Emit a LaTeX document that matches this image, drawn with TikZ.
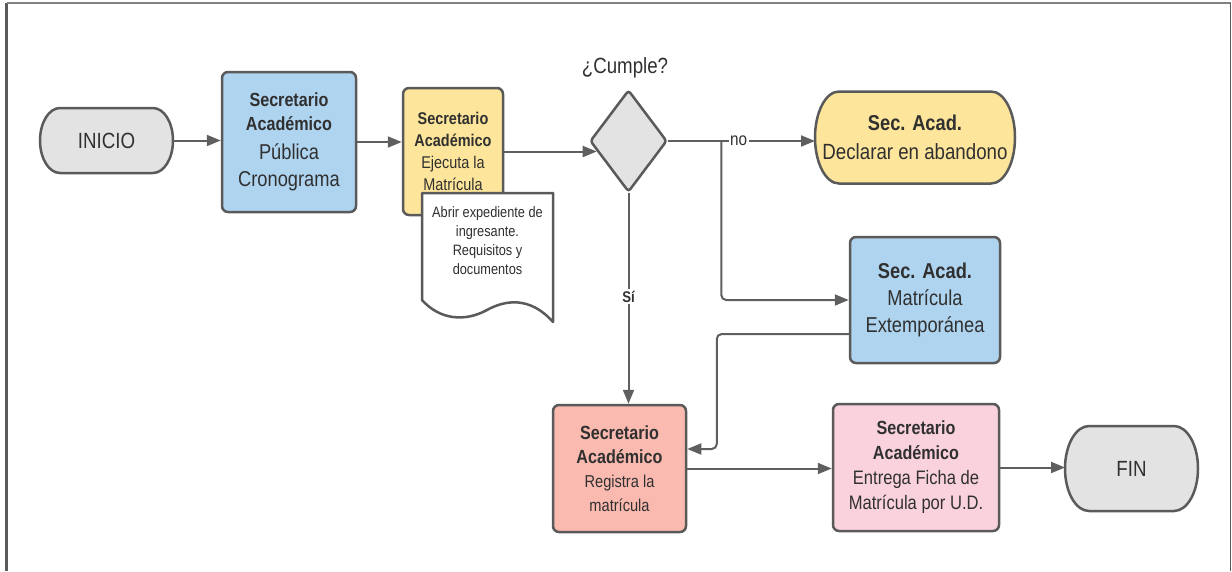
\documentclass[tikz,border=0pt]{standalone}
\usepackage{fontspec}
\setmainfont{Liberation Sans}[FakeStretch=0.85]
\usetikzlibrary{shapes.geometric,arrows.meta,calc,backgrounds}

\definecolor{edge}{RGB}{90,90,90}
\definecolor{wire}{RGB}{95,95,95}
\definecolor{ink}{RGB}{48,48,48}
\definecolor{greyF}{RGB}{227,227,227}
\definecolor{blueF}{RGB}{175,212,240}
\definecolor{yellowF}{RGB}{253,229,155}
\definecolor{salmonF}{RGB}{250,186,176}
\definecolor{pinkF}{RGB}{250,210,221}

% font size and baseline skip in one go
\newcommand\fsz[2]{\fontsize{#1}{#2}\selectfont}
% one bold heading line at a given size, keeping the node's line pitch
\newcommand\hdl[2]{{\fontsize{#1}{\baselineskip}\selectfont\bfseries #2}}
% terminator outline: straight top and bottom, half-ellipse ends
\newcommand\pillshape[3]{%
  \draw[draw=edge, line width=2.5pt, fill=#2]
    let \p1=($(#1.north)-(#1.south)$) in
    ([xshift=#3]#1.north west) -- ([xshift=-#3]#1.north east)
    arc[start angle=90, end angle=-90, x radius=#3, y radius=0.5*\y1]
    -- ([xshift=#3]#1.south west)
    arc[start angle=270, end angle=90, x radius=#3, y radius=0.5*\y1]
    -- cycle;}

\begin{document}
\begin{tikzpicture}[x=1pt, y=-1pt,
  procbox/.style={rectangle, draw=edge, line width=2.5pt, rounded corners=6pt,
    text=ink, align=center, inner sep=0pt},
  termnode/.style={rectangle, inner sep=0pt, outer sep=0pt, text=ink, align=center},
  flow/.style={draw=wire, line width=2pt, -{Triangle[length=14pt, width=11pt]}},
  lbl/.style={fill=white, inner sep=1.5pt, text=ink}]
\useasboundingbox (0,0) rectangle (1232,571);

% page frame
\draw[line width=2.5pt, edge] (6.5,571) -- (6.5,3);
\draw[line width=1.5pt, black!50] (6.5,3) -- (1230.5,3);
\draw[line width=1.5pt, edge] (1230.5,3) -- (1230.5,571);

% start and end terminators
\node[termnode, minimum width=133pt, minimum height=65pt, font=\fsz{22}{26}]
  (inicio) at (106.5,140.5) {INICIO};
\node[termnode, minimum width=133pt, minimum height=85pt, font=\fsz{22}{26}]
  (fin) at (1131.5,468.5) {FIN};
\node[termnode, minimum width=200pt, minimum height=92pt, font=\fsz{22}{29}]
  (aband) at (915,137.5)
  {\hdl{21.5}{Sec. Acad.}\\ Declarar en abandono};

\begin{scope}[on background layer]
  \pillshape{inicio}{greyF}{20pt}
  \pillshape{fin}{greyF}{24pt}
  \pillshape{aband}{yellowF}{24pt}
\end{scope}

% process boxes
\node[procbox, fill=blueF, minimum width=134pt, minimum height=140pt,
  font=\fsz{21.5}{26.7}] (pub) at (289,142)
  {\hdl{19}{Secretario}\\[-2.4pt] \hdl{19}{Académico}\\[2.3pt]
   Pública\\ Cronograma};

\node[procbox, fill=yellowF, minimum width=100pt, minimum height=127pt,
  font=\fsz{17}{22}] (eje) at (453,151.5)
  {\hdl{17}{Secretario}\\ \hdl{17}{Académico}\\ Ejecuta la\\ Matrícula};

\node[procbox, fill=blueF, minimum width=150pt, minimum height=126pt,
  font=\fsz{21.5}{27}] (ext) at (925,300)
  {\hdl{21.5}{Sec. Acad.}\\ Matrícula\\ Extemporánea};

\node[procbox, fill=salmonF, minimum width=133pt, minimum height=127pt,
  font=\fsz{17.2}{24}] (reg) at (619.5,468.5)
  {\hdl{19}{Secretario}\\ \hdl{19}{Académico}\\ Registra la\\ matrícula};

\node[procbox, fill=pinkF, minimum width=166pt, minimum height=127pt,
  font=\fsz{19.5}{25}] (ent) at (916,467.5)
  {\hdl{19}{Secretario}\\ \hdl{19}{Académico}\\ Entrega Ficha de\\ Matrícula por U.D.};

% document note with a wavy lower edge
\draw[draw=edge, line width=2.5pt, fill=white, line join=round]
  (422,300) -- (422,193) -- (553,193) -- (553,322)
  .. controls (530,296) and (505,300) .. (487,310)
  .. controls (465,322) and (440,320) .. (422,300) -- cycle;
\node[font=\fsz{15}{19}, text=ink, align=center, inner sep=0pt]
  (doc) at (487.5,241)
  {Abrir expediente de\\ ingresante.\\ Requisitos y\\ documentos};

% decision
\node[diamond, draw=edge, line width=2.5pt, fill=greyF, minimum width=77pt,
  minimum height=102pt, inner sep=0pt, rounded corners=3pt] (dia) at (628.5,141) {};
\node[font=\fsz{22}{26}, text=ink] (q) at (625,68) {¿Cumple?};

% connectors
\draw[flow] (inicio.east) -- (inicio.east -| pub.west);
\draw[flow] (pub.east) -- (pub.east -| eje.west);
\coordinate (p) at ($(dia.west)!0.2!(dia.south)$);
\draw[flow] (eje.east) -- (eje.east -| p);
\draw[flow] (dia.east) -- (dia.east -| aband.west)
  node[lbl, pos=0.48, font=\fsz{18}{20}] {no};
\coordinate (j) at ([xshift=53pt]dia.east);
\draw[flow, rounded corners=5pt] (j) |- (ext.west);
\draw[flow, rounded corners=5pt] ([yshift=-34pt]ext.west) -- ++(-132pt,0)
  |- ([yshift=19.5pt]reg.east);
\draw[flow] (dia.south) -- (dia.south |- reg.north)
  node[lbl, pos=0.49, font=\fsz{15.5}{18}\bfseries] {Sí};
\draw[flow] (reg.east) -- (reg.east -| ent.west);
\draw[flow] (ent.east) -- (ent.east -| fin.west);
\end{tikzpicture}
\end{document}
